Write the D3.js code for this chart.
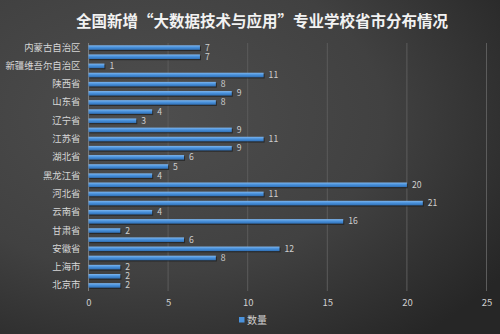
<!DOCTYPE html>
<html><head><meta charset="utf-8">
<script src="https://cdn.jsdelivr.net/npm/d3@7"></script>
<style>body{margin:0;background:#000}svg{display:block}</style>
</head><body>
<script>
// categories from bottom to top
const categories = ["北京市","天津市","上海市","重庆市","安徽省","福建省","甘肃省","广东省","云南省","贵州省","河北省","河南省","黑龙江省","吉林省","湖北省","湖南省","江苏省","江西省","辽宁省","宁夏回族自治区","山东省","山西省","陕西省","四川省","新疆维吾尔自治区","广西壮族自治区","内蒙古自治区"];
const values = [2,2,2,8,12,6,2,16,4,21,11,20,4,5,6,9,11,9,3,4,8,9,8,11,1,7,7];
const xTicks = [0,5,10,15,20,25];
const seriesName = "数量";
const title = "全国新增“大数据技术与应用”专业学校省市分布情况";

const W=500,H=334;
const svg=d3.select("body").append("svg").attr("width",W).attr("height",H);
const defs=svg.append("defs");
const bg=defs.append("radialGradient").attr("id","bg").attr("cx","30%").attr("cy","35%").attr("r","85%");
bg.append("stop").attr("offset","0%").attr("stop-color","#4e4e4e");
bg.append("stop").attr("offset","55%").attr("stop-color","#414141");
bg.append("stop").attr("offset","100%").attr("stop-color","#262626");
svg.append("rect").attr("width",W).attr("height",H).attr("fill","url(#bg)");
const bar=defs.append("linearGradient").attr("id","bar").attr("x1",0).attr("y1",0).attr("x2",0).attr("y2",1);
bar.append("stop").attr("offset","0%").attr("stop-color","#7fb6ee");
bar.append("stop").attr("offset","45%").attr("stop-color","#4a92dc");
bar.append("stop").attr("offset","100%").attr("stop-color","#2f6fb5");

svg.append("text").attr("x",262).attr("y",27).attr("text-anchor","middle")
  .attr("fill","#f2f2f2").attr("font-family","Noto Sans CJK SC").attr("font-weight","bold")
  .attr("font-size",15.5).text(title);

const x=d3.scaleLinear().domain([0,25]).range([88.5,486.5]);
const y=d3.scaleBand().domain(categories.slice().reverse()).range([43,290]).paddingInner(0.5).paddingOuter(0.25);

// gridlines
svg.append("g").selectAll("line").data(xTicks.slice(1)).join("line")
  .attr("x1",d=>x(d)).attr("x2",d=>x(d)).attr("y1",43).attr("y2",291)
  .attr("stroke","#5c5c5c").attr("stroke-width",1);
svg.append("line").attr("x1",x(0)).attr("x2",x(0)).attr("y1",43).attr("y2",291).attr("stroke","#7a7a7a");

// x axis
const xa=svg.append("g").attr("transform","translate(0,291)")
  .call(d3.axisBottom(x).tickValues(xTicks).tickSize(0).tickPadding(8));
xa.select(".domain").remove();
xa.selectAll("text").attr("fill","#d0d0d0").attr("font-size",9.5).attr("font-family","Noto Sans CJK SC");

// y axis (every other label)
const ya=svg.append("g").attr("transform",`translate(${x(0)},0)`)
  .call(d3.axisLeft(y).tickSize(0).tickPadding(8).tickFormat((d,i)=>categories.indexOf(d)%2===0?d:""));
ya.select(".domain").remove();
ya.selectAll("text").attr("fill","#d6d6d6").attr("font-size",9.4).attr("font-family","Noto Sans CJK SC");

const data=categories.map((c,i)=>({c,v:values[i]}));
const g=svg.append("g");
g.selectAll("rect.sh").data(data).join("rect").attr("class","sh")
  .attr("x",x(0)+1).attr("y",d=>y(d.c)+1.2).attr("width",d=>x(d.v)-x(0)).attr("height",y.bandwidth())
  .attr("fill","#1c1c1c").attr("opacity",0.7);
g.selectAll("rect.b").data(data).join("rect").attr("class","b")
  .attr("x",x(0)).attr("y",d=>y(d.c)).attr("width",d=>x(d.v)-x(0)).attr("height",y.bandwidth())
  .attr("fill","url(#bar)");
g.selectAll("text").data(data).join("text")
  .attr("x",d=>x(d.v)+5).attr("y",d=>y(d.c)+y.bandwidth()/2).attr("dy","0.35em")
  .attr("fill","#cfcfcf").attr("font-size",8.6).attr("font-family","Noto Sans CJK SC").text(d=>d.v);

// legend
svg.append("rect").attr("x",239).attr("y",317).attr("width",5.5).attr("height",5.5).attr("fill","#4a92dc");
svg.append("text").attr("x",247).attr("y",320).attr("dy","0.35em").attr("fill","#d0d0d0")
  .attr("font-size",10).attr("font-family","Noto Sans CJK SC").text(seriesName);
</script>
</body></html>
